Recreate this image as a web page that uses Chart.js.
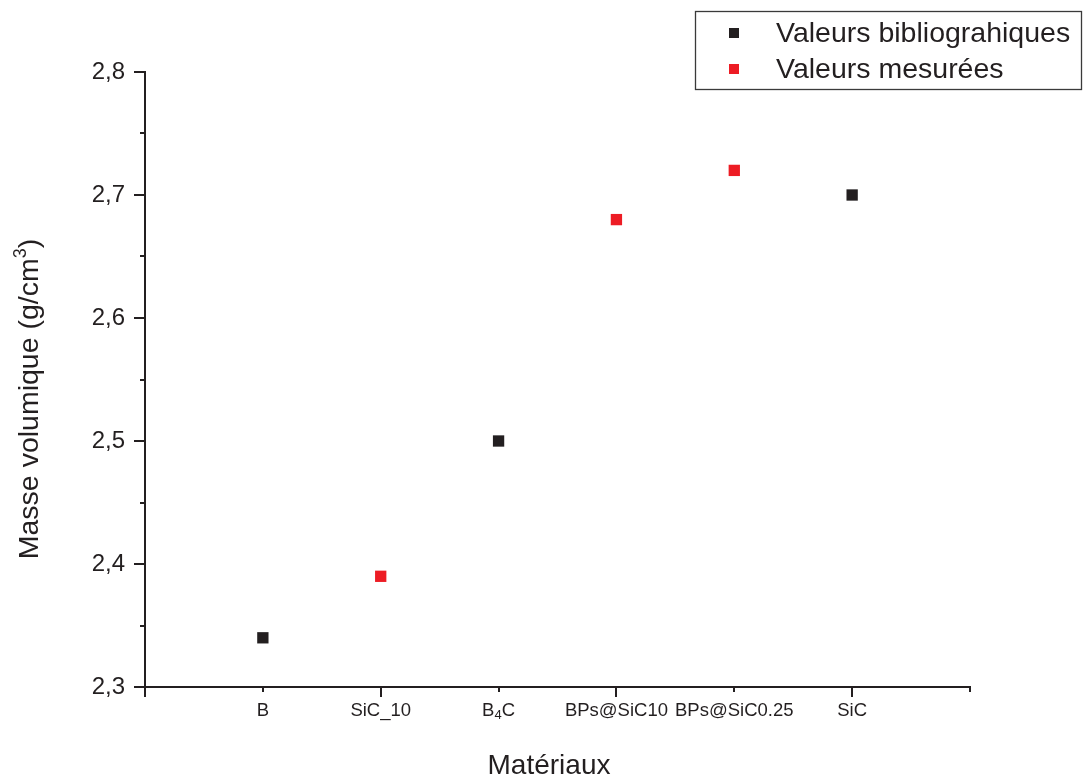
<!DOCTYPE html>
<html>
<head>
<meta charset="utf-8">
<script src="https://cdn.jsdelivr.net/npm/chart.js@4"></script>
<style>
  html, body { margin: 0; padding: 0; background: #fff; }
  #wrap { width: 1085px; height: 779px; }
</style>
</head>
<body>
<div id="wrap"><canvas id="densityChart" width="1085" height="779"></canvas></div>
<script>
const categories = ["B", "SiC_10", "B₄C", "BPs@SiC10", "BPs@SiC0.25", "SiC"];
const biblioValues = [2.34, null, 2.5, null, null, 2.7];
const measuredValues = [null, 2.39, null, 2.68, 2.72, null];
const yTicks = [2.3, 2.4, 2.5, 2.6, 2.7, 2.8];
const seriesNames = ["Valeurs bibliograhiques", "Valeurs mesurées"];

const BLACK = "#231f20";
const RED = "#ed1c24";
const FONT = "'Liberation Sans', Arial, sans-serif";

const toPoints = (values) =>
  values
    .map((y, i) => ({ x: i + 1, y }))
    .filter((p) => p.y !== null);

// draws text where unicode subscript digits are lowered and shrunk
function drawRichText(ctx, text, x, y, size, align) {
  const subs = "₀₁₂₃₄₅₆₇₈₉";
  const parts = [];
  for (const ch of text) {
    const k = subs.indexOf(ch);
    if (k >= 0) parts.push({ t: String(k), sub: true });
    else parts.push({ t: ch, sub: false });
  }
  const fontFor = (p) => `${p.sub ? Math.round(size * 0.68) : size}px ${FONT}`;
  let total = 0;
  parts.forEach((p) => {
    ctx.font = fontFor(p);
    p.w = ctx.measureText(p.t).width;
    total += p.w;
  });
  let cx = align === "center" ? x - total / 2 : x;
  ctx.textAlign = "left";
  parts.forEach((p) => {
    ctx.font = fontFor(p);
    ctx.fillText(p.t, cx, p.sub ? y + size * 0.25 : y);
    cx += p.w;
  });
}

const decorations = {
  id: "decorations",
  afterDraw(chart) {
    const { ctx, scales } = chart;
    const xs = scales.x;
    const ys = scales.y;
    const bottom = ys.getPixelForValue(2.3);
    const left = xs.getPixelForValue(0);
    ctx.save();
    ctx.strokeStyle = BLACK;
    ctx.fillStyle = BLACK;
    ctx.lineWidth = 2;

    // x ticks: long on even positions, short on odd ones
    for (let v = 0; v <= 7; v++) {
      const px = Math.round(xs.getPixelForValue(v));
      const len = v % 2 === 0 ? 10 : 5;
      ctx.beginPath();
      ctx.moveTo(px, bottom);
      ctx.lineTo(px, bottom + len);
      ctx.stroke();
    }
    // y ticks: major every 0.1, minor every 0.05
    for (let k = 0; k <= 10; k++) {
      const v = 2.3 + k * 0.05;
      const py = Math.round(ys.getPixelForValue(v));
      const len = k % 2 === 0 ? 11 : 5;
      ctx.beginPath();
      ctx.moveTo(left, py);
      ctx.lineTo(left - len, py);
      ctx.stroke();
    }

    // category labels
    ctx.textBaseline = "middle";
    categories.forEach((c, i) => {
      drawRichText(ctx, c, xs.getPixelForValue(i + 1), 711, 18.5, "center");
    });

    // axis titles
    ctx.textBaseline = "alphabetic";
    ctx.textAlign = "center";
    ctx.font = `28px ${FONT}`;
    ctx.fillText("Matériaux", 549, 774);

    ctx.save();
    ctx.translate(38, 399);
    ctx.rotate(-Math.PI / 2);
    const main = "Masse volumique (g/cm";
    ctx.font = `28.5px ${FONT}`;
    const wMain = ctx.measureText(main).width;
    const wClose = ctx.measureText(")").width;
    ctx.font = `18px ${FONT}`;
    const wSup = ctx.measureText("3").width;
    let sx = -(wMain + wSup + wClose) / 2;
    ctx.textAlign = "left";
    ctx.font = `28.5px ${FONT}`;
    ctx.fillText(main, sx, 0);
    sx += wMain;
    ctx.font = `18px ${FONT}`;
    ctx.fillText("3", sx, -12);
    sx += wSup;
    ctx.font = `28.5px ${FONT}`;
    ctx.fillText(")", sx, 0);
    ctx.restore();

    // legend box
    ctx.lineWidth = 1.3;
    ctx.strokeStyle = "#3a3a3a";
    ctx.strokeRect(695.5, 11.5, 386, 78);
    const rows = [
      { name: seriesNames[0], color: BLACK, y: 33 },
      { name: seriesNames[1], color: RED, y: 69 },
    ];
    ctx.textBaseline = "middle";
    ctx.textAlign = "left";
    ctx.font = `28.5px ${FONT}`;
    rows.forEach((r) => {
      ctx.fillStyle = r.color;
      ctx.fillRect(729, r.y - 5, 10, 10);
      ctx.fillStyle = BLACK;
      ctx.fillText(r.name, 776, r.y + 1);
    });
    ctx.restore();
  },
};

new Chart(document.getElementById("densityChart"), {
  type: "scatter",
  data: {
    datasets: [
      {
        label: seriesNames[0],
        data: toPoints(biblioValues),
        backgroundColor: BLACK,
        borderWidth: 0,
        pointStyle: "rect",
        pointRadius: 8,
      },
      {
        label: seriesNames[1],
        data: toPoints(measuredValues),
        backgroundColor: RED,
        borderWidth: 0,
        pointStyle: "rect",
        pointRadius: 8,
      },
    ],
  },
  options: {
    responsive: false,
    animation: false,
    layout: { padding: { left: 0, top: 72, right: 115, bottom: 0 } },
    plugins: {
      legend: { display: false },
      tooltip: { enabled: false },
    },
    scales: {
      x: {
        type: "linear",
        min: 0,
        max: 7,
        ticks: { display: false, stepSize: 1 },
        grid: { display: false, drawTicks: false },
        border: { display: true, color: BLACK, width: 2 },
        afterFit: (scale) => {
          scale.height = 92;
        },
      },
      y: {
        min: 2.3,
        max: 2.8,
        ticks: {
          stepSize: 0.05,
          padding: 20,
          color: BLACK,
          font: { family: FONT, size: 24 },
          callback: (v) => {
            const label = yTicks.find((t) => Math.abs(t - v) < 1e-6);
            return label === undefined ? "" : label.toFixed(1).replace(".", ",");
          },
        },
        grid: { display: false, drawTicks: false },
        border: { display: true, color: BLACK, width: 2 },
        afterFit: (scale) => {
          scale.width = 145;
        },
      },
    },
  },
  plugins: [decorations],
});
</script>
</body>
</html>
